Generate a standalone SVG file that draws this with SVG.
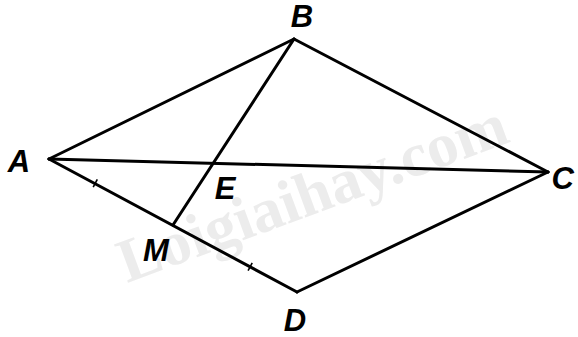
<svg xmlns="http://www.w3.org/2000/svg" width="578" height="337" viewBox="0 0 578 337">
<style>
.ln{stroke:#000;stroke-width:3;fill:none;stroke-linecap:round;stroke-linejoin:round}
.tk{stroke:#000;stroke-width:1.6}
.lb{font-family:"Liberation Sans",Arial,sans-serif;font-size:31px;font-weight:bold;font-style:italic;fill:#000;text-anchor:middle}
.wm{font-family:"Liberation Serif","Times New Roman",serif;font-size:62px;font-weight:bold;fill:#ececec}
</style>
<rect width="578" height="337" fill="#fff"/>
<text class="wm" x="127" y="283" transform="rotate(-20.2 127 283)" textLength="410" lengthAdjust="spacingAndGlyphs">Loigiaihay.com</text>
<g id="connectors">
<line class="ln" x1="49" y1="159" x2="294" y2="39"/>
<line class="ln" x1="294" y1="39" x2="548" y2="172"/>
<line class="ln" x1="548" y1="172" x2="297" y2="292"/>
<line class="ln" x1="297" y1="292" x2="49" y2="159"/>
<line class="ln" x1="49" y1="159" x2="548" y2="172"/>
<line class="ln" x1="294" y1="39" x2="173" y2="225"/>
<line class="tk" x1="97.3" y1="179.3" x2="93.2" y2="187.1"/>
<line class="tk" x1="252.2" y1="262.9" x2="248.1" y2="270.7"/>
</g>
<g id="A"><text class="lb" x="19" y="172">A</text></g>
<g id="B"><text class="lb" x="302" y="27">B</text></g>
<g id="C"><text class="lb" x="574" y="189" style="text-anchor:end">C</text></g>
<g id="D"><text class="lb" x="295" y="331">D</text></g>
<g id="E"><text class="lb" x="225" y="199">E</text></g>
<g id="M"><text class="lb" x="156" y="261">M</text></g>
</svg>
